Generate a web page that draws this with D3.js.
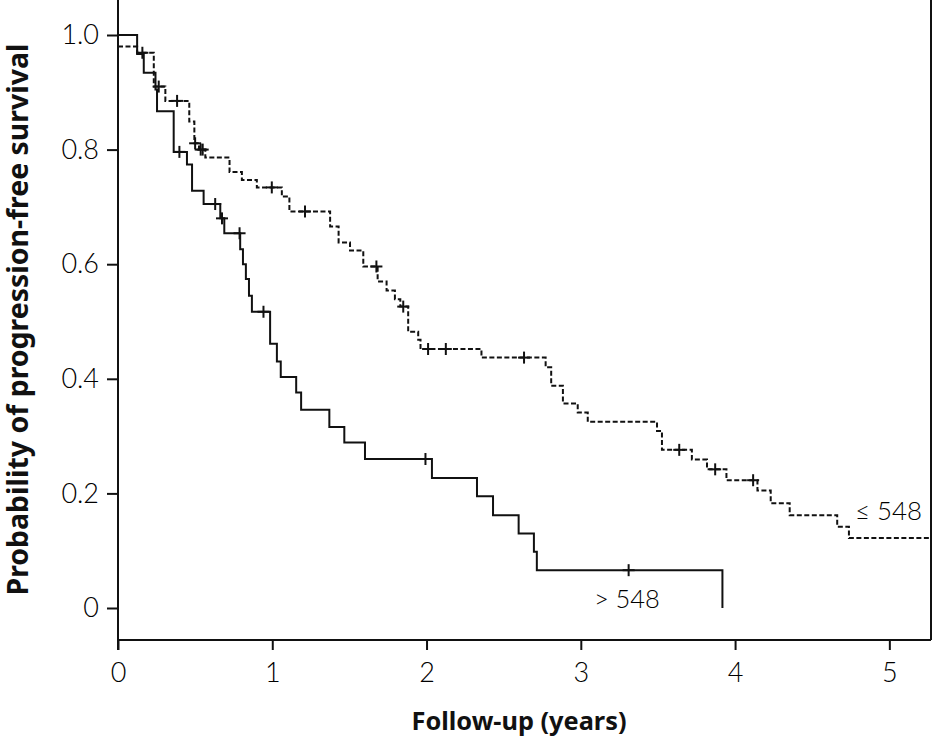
<!DOCTYPE html>
<html>
<head>
<meta charset="utf-8">
<script src="https://cdn.jsdelivr.net/npm/d3@7"></script>
<style>
  html, body { margin: 0; padding: 0; background: #fff; }
  svg { display: block; }
  .tick text { font-family: Lato, "Open Sans", sans-serif; font-weight: 300; font-size: 27px; fill: #000; }
</style>
</head>
<body>
<svg id="chart" width="934" height="740"></svg>
<script>
// ---- Data ----
// Group "> 548": step times (years) and survival after each step
const highTimes = [0, 0.124, 0.167, 0.243, 0.253, 0.361, 0.447, 0.48, 0.555, 0.663, 0.689, 0.792, 0.81, 0.829, 0.849, 0.868, 0.986, 1.03, 1.055, 1.155, 1.187, 1.37, 1.467, 1.601, 2.035, 2.327, 2.431, 2.597, 2.696, 2.715, 3.918];
const highSurv  = [1.0, 0.967, 0.934, 0.905, 0.867, 0.796, 0.774, 0.728, 0.705, 0.68, 0.654, 0.626, 0.6, 0.574, 0.545, 0.517, 0.461, 0.43, 0.403, 0.376, 0.346, 0.316, 0.289, 0.26, 0.227, 0.195, 0.162, 0.13, 0.098, 0.066, 0.0];
const highCensorTimes = [0.398, 0.63, 0.674, 0.788, 0.943, 1.993, 3.31];

// Group "≤ 548"
const lowTimes = [0, 0.124, 0.232, 0.307, 0.462, 0.495, 0.525, 0.566, 0.723, 0.803, 0.9, 1.062, 1.111, 1.375, 1.43, 1.504, 1.59, 1.683, 1.741, 1.795, 1.83, 1.881, 1.946, 1.961, 2.356, 2.772, 2.808, 2.884, 2.98, 3.045, 3.494, 3.526, 3.72, 3.818, 3.944, 4.145, 4.231, 4.354, 4.662, 4.738, 5.27];
const lowSurv  = [0.98, 0.969, 0.91, 0.885, 0.849, 0.811, 0.8, 0.786, 0.761, 0.747, 0.734, 0.718, 0.692, 0.666, 0.638, 0.624, 0.596, 0.57, 0.554, 0.539, 0.526, 0.482, 0.468, 0.452, 0.437, 0.42, 0.388, 0.357, 0.341, 0.325, 0.309, 0.276, 0.259, 0.242, 0.223, 0.205, 0.183, 0.162, 0.142, 0.122, 0.122];
const lowCensorTimes = [0.158, 0.264, 0.383, 0.5, 0.536, 0.549, 0.997, 1.212, 1.675, 1.849, 2.01, 2.125, 2.632, 3.638, 3.871, 4.117];

const xTicks = [0, 1, 2, 3, 4, 5];
const xTickLabels = ["0", "1", "2", "3", "4", "5"];
const yTicks = [0, 0.2, 0.4, 0.6, 0.8, 1.0];
const yTickLabels = ["0", "0.2", "0.4", "0.6", "0.8", "1.0"];
const groupLabels = ["\u2264 548", "> 548"];
const xTitle = "Follow-up (years)";
const yTitle = "Probability of progression-free survival";

// ---- Layout ----
const svg = d3.select("#chart");
const x = d3.scaleLinear().domain([0, 5.27]).range([118, 931]);
const y = d3.scaleLinear().domain([0, 1]).range([608, 35]);
const axisY = 640;

const toPts = (t, s) => t.map((d, i) => [d, s[i]]);
const stepAt = (t, s, c) => { let v = s[0]; for (let i = 0; i < t.length; i++) { if (t[i] <= c) v = s[i]; } return v; };
function fit(sel, target) {
  const n = sel.node();
  const fs = parseFloat(sel.attr("font-size"));
  const L = n.getComputedTextLength();
  if (L > 0) sel.attr("font-size", (fs * target / L).toFixed(2));
  return sel;
}

// Frame lines (left and right)
svg.append("line").attr("x1", x(0)).attr("x2", x(0)).attr("y1", 0).attr("y2", axisY + 10)
  .attr("stroke", "#111").attr("stroke-width", 2);
svg.append("line").attr("x1", x(5.27)).attr("x2", x(5.27)).attr("y1", 0).attr("y2", axisY)
  .attr("stroke", "#111").attr("stroke-width", 2);

// Y axis
const yAxis = d3.axisLeft(y).tickValues(yTicks)
  .tickFormat((d, i) => yTickLabels[i]).tickSize(11).tickPadding(8).tickSizeOuter(0);
const gy = svg.append("g").attr("transform", `translate(${x(0)},0)`).call(yAxis);
gy.select(".domain").remove();
gy.selectAll(".tick line").attr("stroke", "#111").attr("stroke-width", 2);

// X axis
const xAxis = d3.axisBottom(x).tickValues(xTicks)
  .tickFormat((d, i) => xTickLabels[i]).tickSize(10).tickPadding(13).tickSizeOuter(0);
const gx = svg.append("g").attr("transform", `translate(0,${axisY})`).call(xAxis);
gx.select(".domain").attr("stroke", "#111").attr("stroke-width", 2)
  .attr("d", `M${x(0)},0H${x(5.27)}`);
gx.selectAll(".tick line").attr("stroke", "#111").attr("stroke-width", 2);

// Curves
const line = d3.line().x(d => x(d[0])).y(d => y(d[1])).curve(d3.curveStepAfter);
svg.append("path").datum(toPts(lowTimes, lowSurv)).attr("d", line)
  .attr("fill", "none").attr("stroke", "#111").attr("stroke-width", 2)
  .attr("stroke-dasharray", "5,2.5");
svg.append("path").datum(toPts(highTimes, highSurv)).attr("d", line)
  .attr("fill", "none").attr("stroke", "#111").attr("stroke-width", 2);

// Censor marks
function censors(times, t, s, halfW, halfH) {
  const g = svg.append("g").attr("stroke", "#111").attr("stroke-width", 2);
  times.forEach(c => {
    const cx = x(c), cy = y(stepAt(t, s, c));
    g.append("line").attr("x1", cx - halfW).attr("x2", cx + halfW).attr("y1", cy).attr("y2", cy);
    g.append("line").attr("x1", cx).attr("x2", cx).attr("y1", cy - halfH).attr("y2", cy + halfH);
  });
}
censors(lowCensorTimes, lowTimes, lowSurv, 6, 6);
censors(highCensorTimes, highTimes, highSurv, 6, 6);

// Group labels
const lblFont = 'Lato, "Open Sans", sans-serif';
const l1 = svg.append("text").attr("x", x(4.777)).attr("y", y(0.154)).text(groupLabels[0])
  .attr("font-family", lblFont).attr("font-weight", 300).attr("font-size", 27).attr("fill", "#000");
fit(l1, 67);
const l2 = svg.append("text").attr("x", x(3.085)).attr("y", y(0.0)).text(groupLabels[1])
  .attr("font-family", lblFont).attr("font-weight", 300).attr("font-size", 27).attr("fill", "#000");
fit(l2, 66);

// Axis titles
const titleFont = '"Noto Sans", "Open Sans", sans-serif';
const xt = svg.append("text").attr("x", 519).attr("y", 730).attr("text-anchor", "middle").text(xTitle)
  .attr("font-family", titleFont).attr("font-weight", 700).attr("font-size", 22).attr("fill", "#111");
fit(xt, 215);
const yt = svg.append("text").attr("transform", `translate(28,${(y(0) + y(1)) / 2 - 2}) rotate(-90)`)
  .attr("text-anchor", "middle").text(yTitle)
  .attr("font-family", titleFont).attr("font-weight", 700).attr("font-size", 22).attr("fill", "#111");
fit(yt, 552);
</script>
</body>
</html>
